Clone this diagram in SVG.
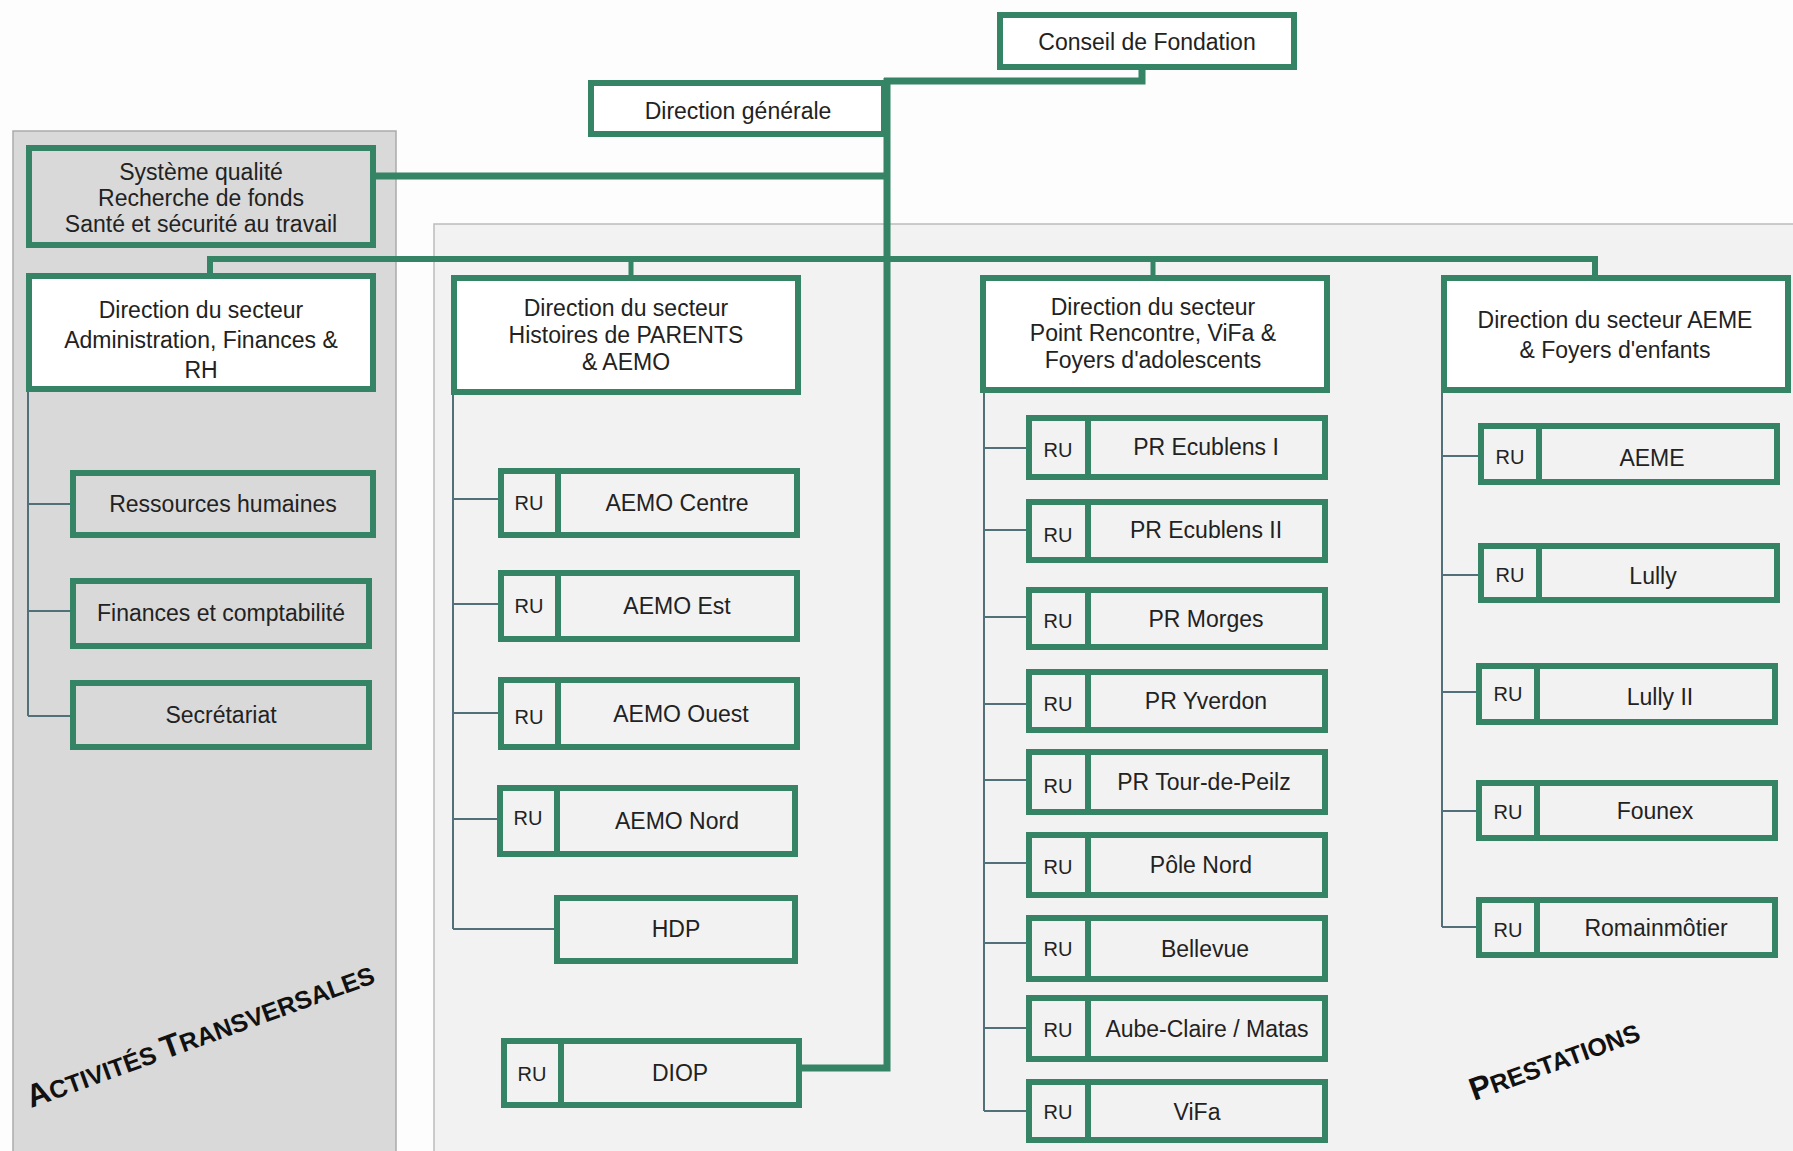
<svg xmlns="http://www.w3.org/2000/svg" width="1793" height="1151" viewBox="0 0 1793 1151">
<style>
.bg{fill:#fdfdfd}
.pl{fill:#d9d9d9;stroke:#aaaaaa;stroke-width:1.5}
.pr{fill:#f2f2f2;stroke:#bcbcbc;stroke-width:1.5}
.box{fill:#ffffff;stroke:#358466;stroke-width:6}
.item{fill:#f2f2f2;stroke:#358466;stroke-width:6}
.gitem{fill:#d9d9d9;stroke:#358466;stroke-width:6}
.div{stroke:#358466;stroke-width:6}
.thick{fill:none;stroke:#358466;stroke-width:7}
.drop{fill:none;stroke:#358466;stroke-width:5}
.thin{fill:none;stroke:#52707a;stroke-width:2}
text{font-family:"Liberation Sans",Arial,sans-serif;fill:#222;text-anchor:middle;font-size:23px}
.ru{font-size:20px}
.band{text-anchor:start;fill:#111;font-weight:bold}
</style>
<rect class="bg" x="0" y="0" width="1793" height="1151"/>
<g id="panels">
<rect class="pl" x="13" y="131" width="383" height="1040"/>
<rect class="pr" x="434" y="224" width="1380" height="950"/>
</g>
<g id="connectors">
<path class="thick" d="M1142 70 V81 H884"/>
<path class="thick" d="M887 78 V1068 H802"/>
<path class="thick" d="M376 176 H887"/>
<path class="thick" d="M210 276 V259 H1595 V276" style="stroke-width:6"/>
<path class="drop" d="M631 259 V278 M1153 259 V278"/>
<path class="thin" d="M28 392 V716 M28 504 H70 M28 611 H70 M28 716 H70"/>
<path class="thin" d="M453 395 V929 M453 499 H498 M453 604 H498 M453 713 H498 M453 819 H497 M453 929 H554"/>
<path class="thin" d="M984 393 V1111 M984 448 H1026 M984 530 H1026 M984 617 H1026 M984 704 H1026 M984 780 H1026 M984 863 H1026 M984 943 H1026 M984 1028 H1026 M984 1111 H1026"/>
<path class="thin" d="M1442 393 V927 M1442 456 H1478 M1442 575 H1478 M1442 692 H1478 M1442 811 H1478 M1442 927 H1478"/>
</g>
<g id="conseil"><rect class="box" x="1000" y="15" width="294" height="52"/><text x="1147" y="50">Conseil de Fondation</text></g>
<g id="direction-generale"><rect class="box" x="591" y="83" width="293" height="51"/><text x="738" y="119">Direction générale</text></g>
<g id="systeme-qualite"><rect class="gitem" x="29" y="148" width="344" height="97"/>
<text x="201" y="180">Système qualité</text><text x="201" y="206">Recherche de fonds</text><text x="201" y="232">Santé et sécurité au travail</text></g>
<g id="dir-admin"><rect class="box" x="29" y="276" width="344" height="113"/>
<text x="201" y="318">Direction du secteur</text><text x="201" y="348">Administration, Finances &amp;</text><text x="201" y="378">RH</text></g>
<g id="dir-hdp"><rect class="box" x="454" y="278" width="344" height="114"/>
<text x="626" y="316">Direction du secteur</text><text x="626" y="343">Histoires de PARENTS</text><text x="626" y="370">&amp; AEMO</text></g>
<g id="dir-pr"><rect class="box" x="983" y="278" width="344" height="112"/>
<text x="1153" y="315">Direction du secteur</text><text x="1153" y="341">Point Rencontre, ViFa &amp;</text><text x="1153" y="368">Foyers d'adolescents</text></g>
<g id="dir-aeme"><rect class="box" x="1444" y="278" width="344" height="112"/>
<text x="1615" y="328">Direction du secteur AEME</text><text x="1615" y="358">&amp; Foyers d'enfants</text></g>
<g id="rh"><rect class="gitem" x="73" y="473" width="300" height="62"/><text x="223" y="512">Ressources humaines</text></g>
<g id="finances"><rect class="gitem" x="73" y="581" width="296" height="65"/><text x="221" y="621">Finances et comptabilité</text></g>
<g id="secretariat"><rect class="gitem" x="73" y="683" width="296" height="64"/><text x="221" y="723">Secrétariat</text></g>
<g id="aemo-centre"><rect class="item" x="501" y="471" width="296" height="64"/><line class="div" x1="558" y1="471" x2="558" y2="535"/><text class="ru" x="529" y="510">RU</text><text x="677" y="511">AEMO Centre</text></g>
<g id="aemo-est"><rect class="item" x="501" y="573" width="296" height="66"/><line class="div" x1="558" y1="573" x2="558" y2="639"/><text class="ru" x="529" y="613">RU</text><text x="677" y="614">AEMO Est</text></g>
<g id="aemo-ouest"><rect class="item" x="501" y="680" width="296" height="67"/><line class="div" x1="558" y1="680" x2="558" y2="747"/><text class="ru" x="529" y="724">RU</text><text x="681" y="722">AEMO Ouest</text></g>
<g id="aemo-nord"><rect class="item" x="500" y="788" width="295" height="66"/><line class="div" x1="557" y1="788" x2="557" y2="854"/><text class="ru" x="528" y="825">RU</text><text x="677" y="829">AEMO Nord</text></g>
<g id="hdp"><rect class="item" x="557" y="898" width="238" height="63"/><text x="676" y="937">HDP</text></g>
<g id="diop"><rect class="item" x="504" y="1041" width="295" height="64"/><line class="div" x1="561" y1="1041" x2="561" y2="1105"/><text class="ru" x="532" y="1081">RU</text><text x="680" y="1081">DIOP</text></g>
<g id="pr-ecublens-1"><rect class="item" x="1029" y="418" width="296" height="59"/><line class="div" x1="1088" y1="418" x2="1088" y2="477"/><text class="ru" x="1058" y="457">RU</text><text x="1206" y="455">PR Ecublens I</text></g>
<g id="pr-ecublens-2"><rect class="item" x="1029" y="502" width="296" height="58"/><line class="div" x1="1088" y1="502" x2="1088" y2="560"/><text class="ru" x="1058" y="542">RU</text><text x="1206" y="538">PR Ecublens II</text></g>
<g id="pr-morges"><rect class="item" x="1029" y="590" width="296" height="57"/><line class="div" x1="1088" y1="590" x2="1088" y2="647"/><text class="ru" x="1058" y="628">RU</text><text x="1206" y="627">PR Morges</text></g>
<g id="pr-yverdon"><rect class="item" x="1029" y="672" width="296" height="58"/><line class="div" x1="1088" y1="672" x2="1088" y2="730"/><text class="ru" x="1058" y="711">RU</text><text x="1206" y="709">PR Yverdon</text></g>
<g id="pr-tour-de-peilz"><rect class="item" x="1029" y="752" width="296" height="60"/><line class="div" x1="1088" y1="752" x2="1088" y2="812"/><text class="ru" x="1058" y="793">RU</text><text x="1204" y="790">PR Tour-de-Peilz</text></g>
<g id="pole-nord"><rect class="item" x="1029" y="835" width="296" height="60"/><line class="div" x1="1088" y1="835" x2="1088" y2="895"/><text class="ru" x="1058" y="874">RU</text><text x="1201" y="873">Pôle Nord</text></g>
<g id="bellevue"><rect class="item" x="1029" y="918" width="296" height="61"/><line class="div" x1="1088" y1="918" x2="1088" y2="979"/><text class="ru" x="1058" y="956">RU</text><text x="1205" y="957">Bellevue</text></g>
<g id="aube-claire"><rect class="item" x="1029" y="998" width="296" height="61"/><line class="div" x1="1088" y1="998" x2="1088" y2="1059"/><text class="ru" x="1058" y="1037">RU</text><text x="1207" y="1037">Aube-Claire / Matas</text></g>
<g id="vifa"><rect class="item" x="1029" y="1082" width="296" height="58"/><line class="div" x1="1088" y1="1082" x2="1088" y2="1140"/><text class="ru" x="1058" y="1119">RU</text><text x="1197" y="1120">ViFa</text></g>
<g id="aeme"><rect class="item" x="1481" y="426" width="296" height="56"/><line class="div" x1="1539" y1="426" x2="1539" y2="482"/><text class="ru" x="1510" y="464">RU</text><text x="1652" y="466">AEME</text></g>
<g id="lully"><rect class="item" x="1481" y="546" width="296" height="54"/><line class="div" x1="1539" y1="546" x2="1539" y2="600"/><text class="ru" x="1510" y="582">RU</text><text x="1653" y="584">Lully</text></g>
<g id="lully-2"><rect class="item" x="1479" y="666" width="296" height="56"/><line class="div" x1="1537" y1="666" x2="1537" y2="722"/><text class="ru" x="1508" y="701">RU</text><text x="1660" y="705">Lully II</text></g>
<g id="founex"><rect class="item" x="1479" y="783" width="296" height="55"/><line class="div" x1="1537" y1="783" x2="1537" y2="838"/><text class="ru" x="1508" y="819">RU</text><text x="1655" y="819">Founex</text></g>
<g id="romainmotier"><rect class="item" x="1479" y="900" width="296" height="55"/><line class="div" x1="1537" y1="900" x2="1537" y2="955"/><text class="ru" x="1508" y="937">RU</text><text x="1656" y="936">Romainmôtier</text></g>
<g id="labels">
<text class="band" transform="translate(31 1108) rotate(-20)"><tspan font-size="32">A</tspan><tspan font-size="25">CTIVITÉS </tspan><tspan font-size="32">T</tspan><tspan font-size="25">RANSVERSALES</tspan></text>
<text class="band" transform="translate(1474 1101) rotate(-20)"><tspan font-size="32">P</tspan><tspan font-size="25">RESTATIONS</tspan></text>
</g>
</svg>
